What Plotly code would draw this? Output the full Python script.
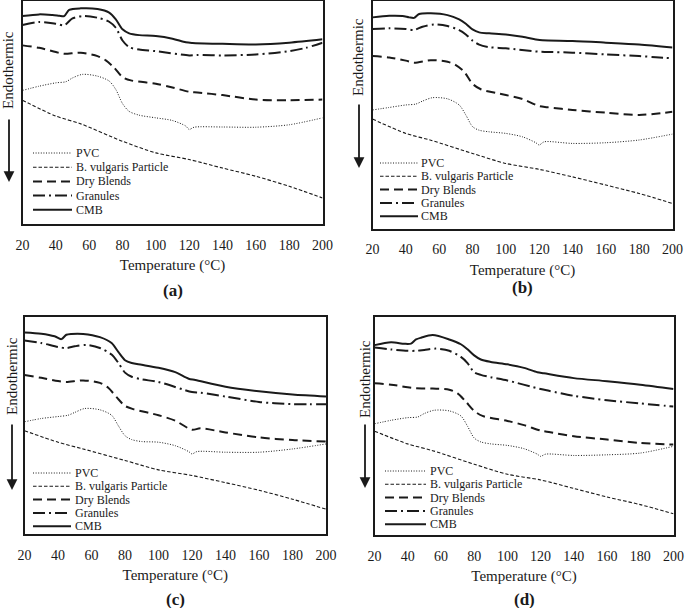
import plotly.graph_objects as go

W, H = 685, 608

SERIES = ["PVC", "B. vulgaris Particle", "Dry Blends", "Granules", "CMB"]
PANEL_LABELS = ["(a)", "(b)", "(c)", "(d)"]
X_TICKS = [20, 40, 60, 80, 100, 120, 140, 160, 180, 200]

# ---- PVC ----
T_PVC = [20, 30, 40, 46, 50, 56, 65, 72, 76, 80, 84, 90, 100, 110, 118, 120, 123, 140, 160, 180, 200]
PVC_A = [59.9, 61.8, 63.3, 63.8, 65.5, 67.1, 66.3, 64.1, 60.3, 54.0, 50.5, 48.8, 47.6, 46.4, 43.9, 42.4, 43.4, 43.5, 43.4, 44.5, 47.6]
PVC_B = [52.1, 53.2, 54.3, 54.7, 56.0, 57.5, 57.0, 54.3, 49.9, 44.8, 43.2, 42.5, 41.8, 40.3, 37.7, 36.7, 38.1, 37.4, 37.7, 38.9, 41.5]
PVC_C = [51.6, 53.1, 54.0, 54.6, 55.9, 57.7, 57.1, 54.6, 49.8, 45.2, 43.4, 42.5, 42.2, 40.6, 37.9, 36.8, 37.9, 37.6, 37.6, 39.1, 41.4]
PVC_D = [50.9, 52.5, 53.7, 54.0, 55.6, 57.1, 56.8, 54.5, 49.8, 44.4, 42.6, 41.7, 41.0, 39.5, 37.0, 36.0, 37.0, 36.4, 36.7, 37.5, 40.6]

# ---- B. vulgaris Particle ----
T_BV = [20, 40, 55, 80, 100, 120, 140, 160, 180, 200]
BV_A = [55.5, 48.4, 44.9, 37.1, 31.9, 28.9, 25.1, 21.4, 16.9, 11.7]
BV_B = [48.1, 41.8, 38.8, 33.0, 28.6, 26.0, 22.7, 19.1, 15.4, 11.0]
BV_C = [47.5, 42.2, 39.1, 33.8, 29.5, 26.9, 23.6, 20.1, 16.0, 11.4]
BV_D = [47.5, 41.7, 38.6, 32.4, 27.8, 25.2, 21.3, 17.4, 13.9, 9.7]

# ---- Dry Blends ----
T_DRY = [20, 30, 40, 45, 55, 65, 70, 75, 80, 85, 100, 110, 120, 125, 140, 160, 180, 200]
DRY_A = [80.1, 79.0, 77.1, 76.3, 76.8, 75.3, 73.4, 70.1, 65.9, 64.4, 62.9, 61.2, 59.3, 59.0, 57.8, 55.8, 55.5, 55.8]
DRY_B = [75.8, 75.2, 73.8, 72.9, 74.0, 73.3, 71.8, 68.9, 63.6, 61.2, 58.7, 56.9, 53.8, 53.3, 52.1, 50.9, 49.9, 51.3]
DRY_C = [73.1, 71.8, 70.3, 69.9, 70.6, 69.5, 67.2, 62.9, 58.9, 57.4, 54.6, 52.1, 47.9, 48.6, 46.7, 44.4, 43.2, 42.5]
DRY_D = [69.4, 68.8, 67.6, 67.2, 67.0, 66.5, 64.8, 61.0, 56.8, 54.5, 52.2, 50.3, 47.8, 47.1, 45.2, 43.7, 42.1, 41.4]

# ---- Granules ----
T_GRA = [20, 30, 40, 45, 50, 57, 65, 72, 76, 80, 84, 90, 100, 120, 125, 140, 160, 180, 190, 200]
GRA_A = [89.2, 90.6, 89.8, 89.1, 92.2, 93.3, 92.5, 90.7, 88.0, 82.3, 79.3, 78.2, 77.5, 75.6, 75.8, 75.6, 76.0, 77.5, 79.0, 81.3]
GRA_B = [87.7, 88.0, 87.7, 87.3, 88.7, 89.7, 89.0, 87.2, 85.3, 82.6, 80.8, 79.7, 79.2, 77.7, 77.6, 77.3, 76.5, 75.8, 75.3, 74.8]
GRA_C = [89.0, 87.8, 86.0, 85.5, 86.3, 86.9, 85.5, 82.5, 78.7, 74.2, 72.3, 71.1, 69.9, 65.3, 65.0, 63.2, 60.7, 59.7, 59.7, 59.7]
GRA_D = [85.8, 84.9, 84.3, 84.3, 84.7, 85.3, 84.3, 81.5, 78.7, 74.5, 73.3, 72.2, 70.7, 66.8, 66.0, 63.7, 61.7, 60.2, 59.5, 58.8]

# ---- CMB ----
T_CMB = [20, 30, 38, 42, 45, 48, 55, 65, 72, 76, 80, 84, 90, 100, 110, 118, 122, 140, 160, 180, 200]
CMB_A = [93.3, 94.0, 93.7, 93.4, 93.2, 96.0, 96.7, 96.4, 94.8, 91.8, 87.3, 85.5, 84.7, 84.3, 83.1, 81.5, 81.2, 80.8, 80.5, 81.3, 82.8]
CMB_B = [92.8, 93.5, 93.4, 92.8, 92.6, 94.3, 94.6, 93.8, 91.9, 90.0, 87.5, 86.2, 85.8, 85.3, 84.3, 83.1, 82.7, 82.4, 81.7, 80.9, 79.6]
CMB_C = [92.7, 92.1, 90.9, 89.6, 91.6, 92.0, 92.0, 90.5, 87.8, 83.7, 79.9, 78.6, 77.8, 76.4, 74.4, 71.4, 70.8, 67.7, 65.6, 64.1, 63.2]
CMB_D = [86.9, 88.2, 87.5, 87.6, 89.5, 90.3, 91.5, 89.5, 87.3, 85.0, 82.2, 80.3, 79.2, 78.1, 76.5, 74.5, 74.0, 71.8, 70.4, 68.8, 66.8]

PANELS = [
    [(T_PVC, PVC_A), (T_BV, BV_A), (T_DRY, DRY_A), (T_GRA, GRA_A), (T_CMB, CMB_A)],
    [(T_PVC, PVC_B), (T_BV, BV_B), (T_DRY, DRY_B), (T_GRA, GRA_B), (T_CMB, CMB_B)],
    [(T_PVC, PVC_C), (T_BV, BV_C), (T_DRY, DRY_C), (T_GRA, GRA_C), (T_CMB, CMB_C)],
    [(T_PVC, PVC_D), (T_BV, BV_D), (T_DRY, DRY_D), (T_GRA, GRA_D), (T_CMB, CMB_D)],
]

# ---- styling / layout (not data) ----
INK = "#1a1a1a"
FONT = "Liberation Serif"
STYLES = [
    dict(dash="1px,1.6px", width=1.0),
    dict(dash="3.5px,2px", width=1.1),
    dict(dash="9px,5px", width=2.0),
    dict(dash="12px,4px,2px,4px", width=2.0),
    dict(dash="solid", width=2.0),
]

# plot boxes in pixels: x0, x1, ytop, ybottom
BOXES = [
    (22.5, 322.5, 1.0, 224.0),
    (372.5, 672.5, 1.0, 228.5),
    (24.5, 326.0, 316.5, 534.0),
    (374.5, 673.5, 316.5, 535.0),
]
# legend: line x0, line x1, first row y, row step
LEGENDS = [
    (33, 72, 153, 14.2),
    (380, 418, 163, 13.3),
    (33, 71, 473, 13.3),
    (385, 426, 471, 13.3),
]
# y label center (x, y), arrow (x, ytail, ytip)
YLABELS = [
    (8, 70, 9, 118, 182),
    (358, 57, 359, 103, 168),
    (12, 376, 12, 423, 490),
    (365, 379, 365, 423, 488),
]
PANEL_LABEL_Y = [290, 287, 599, 599]


def px(x):
    return x / W


def py(y):
    return 1 - y / H


fig = go.Figure()
annotations = []
shapes = []

for i, series in enumerate(PANELS):
    xa = "x" if i == 0 else f"x{i+1}"
    ya = "y" if i == 0 else f"y{i+1}"
    for j, (t, v) in enumerate(series):
        fig.add_trace(go.Scatter(
            x=t, y=v, mode="lines", name=SERIES[j], showlegend=False,
            xaxis=xa, yaxis=ya,
            line=dict(color=INK, width=STYLES[j]["width"], dash=STYLES[j]["dash"],
                      shape="spline", smoothing=0.8),
        ))
    x0, x1, yt, yb = BOXES[i]
    axkey = "xaxis" if i == 0 else f"xaxis{i+1}"
    aykey = "yaxis" if i == 0 else f"yaxis{i+1}"
    fig.update_layout({
        axkey: dict(
            domain=[px(x0), px(x1)], range=[20, 200], tickvals=X_TICKS,
            ticks="", showline=True, mirror=True, linecolor=INK, linewidth=1.5,
            showgrid=False, zeroline=False, anchor=ya, automargin=False,
            tickfont=dict(family=FONT, size=14, color=INK),
            ticklabelstandoff=7,
            title=dict(text="Temperature (°C)", font=dict(family=FONT, size=15, color=INK), standoff=8),
        ),
        aykey: dict(
            domain=[py(yb), py(yt)], range=[0, 100], showticklabels=False,
            ticks="", showline=True, mirror=True, linecolor=INK, linewidth=1.5,
            showgrid=False, zeroline=False, anchor=xa, automargin=False,
        ),
    })

    # manual legend
    lx0, lx1, ly0, step = LEGENDS[i]
    for j, name in enumerate(SERIES):
        yy = ly0 + j * step
        shapes.append(dict(type="line", xref="paper", yref="paper",
                           x0=px(lx0), x1=px(lx1), y0=py(yy), y1=py(yy),
                           line=dict(color=INK, width=STYLES[j]["width"], dash=STYLES[j]["dash"])))
        annotations.append(dict(text=name, xref="paper", yref="paper", x=px(lx1 + 1.5), y=py(yy),
                                xanchor="left", yanchor="middle", showarrow=False,
                                font=dict(family=FONT, size=12, color=INK)))

    # y label + arrow
    lx, lyc, ax_, ayt, ayp = YLABELS[i]
    annotations.append(dict(text="Endothermic", xref="paper", yref="paper", x=px(lx), y=py(lyc),
                            textangle=-90, showarrow=False, xanchor="center", yanchor="middle",
                            font=dict(family=FONT, size=15, color=INK)))
    annotations.append(dict(text="", xref="paper", yref="paper", x=px(ax_), y=py(ayp),
                            ax=0, ay=-(ayp - ayt), showarrow=True, arrowhead=2,
                            arrowsize=1.2, arrowwidth=1.8, arrowcolor=INK))
    # panel label
    annotations.append(dict(text=f"<b>{PANEL_LABELS[i]}</b>", xref="paper", yref="paper",
                            x=px((x0 + x1) / 2), y=py(PANEL_LABEL_Y[i]), showarrow=False,
                            xanchor="center", yanchor="middle",
                            font=dict(family=FONT, size=17, color=INK)))

fig.update_layout(
    width=W, height=H,
    margin=dict(l=0, r=0, t=0, b=0),
    paper_bgcolor="white", plot_bgcolor="white",
    showlegend=False,
    annotations=annotations, shapes=shapes,
)

fig.write_html(
    "out.html",
    config={"displayModeBar": False},
    post_script="document.body.style.margin='0px';document.body.style.overflow='hidden';",
)
